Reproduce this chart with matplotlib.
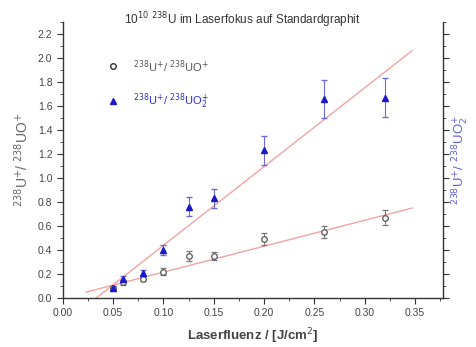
import matplotlib
matplotlib.use("Agg")
import matplotlib.pyplot as plt
import numpy as np

plt.rcParams['font.family'] = ['Liberation Sans', 'DejaVu Sans']

# U+/UO+ (open circles)
x_uo = [0.05, 0.06, 0.08, 0.10, 0.125, 0.15, 0.20, 0.26, 0.32]
y_uo = [0.08, 0.13, 0.16, 0.22, 0.35, 0.35, 0.49, 0.55, 0.67]
e_uo = [0.02, 0.02, 0.02, 0.03, 0.04, 0.03, 0.05, 0.05, 0.06]

# U+/UO2+ (blue triangles)
x_uo2 = [0.05, 0.06, 0.08, 0.10, 0.125, 0.15, 0.20, 0.26, 0.32]
y_uo2 = [0.08, 0.16, 0.21, 0.40, 0.76, 0.83, 1.23, 1.66, 1.67]
e_uo2 = [0.01, 0.02, 0.02, 0.04, 0.08, 0.08, 0.12, 0.16, 0.16]

# linear fits (slope, intercept, x range)
fit_uo = (2.16, 0.0, 0.023, 0.347)
fit_uo2 = (6.56, -0.217, 0.033, 0.347)

fig = plt.figure(figsize=(4.76, 3.47), dpi=100)
ax = fig.add_axes([0.132, 0.141, 0.799, 0.796])

line_col = '#f2a3a3'
for m, b, x0, x1 in (fit_uo, fit_uo2):
    xx = np.array([x0, x1])
    ax.plot(xx, m * xx + b, color=line_col, lw=1.0, zorder=1)

ax.errorbar(x_uo, y_uo, yerr=e_uo, fmt='o', mfc='white', mec='#555555', ms=4,
            mew=0.9, ecolor='#777777', elinewidth=0.8, capsize=2, zorder=3)
ax.errorbar(x_uo2, y_uo2, yerr=e_uo2, fmt='^', color='#1a1acc', ms=5,
            ecolor='#6a6ae0', elinewidth=0.8, capsize=2, zorder=3)

ax.set_xlim(0, 0.378)
ax.set_ylim(0, 2.3)
ax.set_xticks(np.arange(0, 0.351, 0.05))
ax.set_xticks(np.arange(0.025, 0.376, 0.05), minor=True)
ax.set_yticks(np.arange(0, 2.21, 0.2))
ax.set_yticks(np.arange(0.1, 2.31, 0.2), minor=True)
ax.xaxis.set_major_formatter(matplotlib.ticker.FormatStrFormatter('%.2f'))
ax.yaxis.set_major_formatter(matplotlib.ticker.FormatStrFormatter('%.1f'))

ax.spines['top'].set_visible(False)
for s in ('left', 'bottom', 'right'):
    ax.spines[s].set_color('#333333')
    ax.spines[s].set_linewidth(1.0)
ax.tick_params(axis='both', which='both', colors='#333333', labelcolor='#444444',
               labelsize=7.5)
ax.tick_params(axis='both', which='major', length=4, direction='out')
ax.tick_params(axis='both', which='minor', length=2.5, direction='out')
ax.tick_params(axis='y', which='both', right=True, labelright=False)

ax.set_xlabel('Laserfluenz / [J/cm$^2$]', fontsize=9.5, fontweight='bold',
              color='#444444', labelpad=6)
ax.set_ylabel('$^{238}$U$^{+}$/ $^{238}$UO$^{+}$', fontsize=10, color='#666666')
ax.yaxis.set_label_coords(-0.085, 0.5)

ax.text(1.048, 0.5, '$^{238}$U$^{+}$/ $^{238}$UO$^{+}_{2}$', fontsize=9.5,
        color='#6060dd', rotation=90, ha='center', va='center',
        transform=ax.transAxes)

fig.text(0.51, 0.943, '10$^{10}$ $^{238}$U im Laserfokus auf Standardgraphit',
         ha='center', va='center', fontsize=8.5, color='#333333')

# legend
ax.plot([0.05], [1.93], 'o', mfc='white', mec='#333333', ms=4, mew=1.0)
ax.text(0.07, 1.93, '$^{238}$U$^{+}$/ $^{238}$UO$^{+}$', fontsize=8,
        color='#555555', va='center')
ax.plot([0.05], [1.64], '^', color='#1a1acc', ms=5)
ax.text(0.07, 1.64, '$^{238}$U$^{+}$/ $^{238}$UO$^{+}_{2}$', fontsize=8,
        color='#3030cc', va='center')

fig.savefig('out.png', dpi=100)
